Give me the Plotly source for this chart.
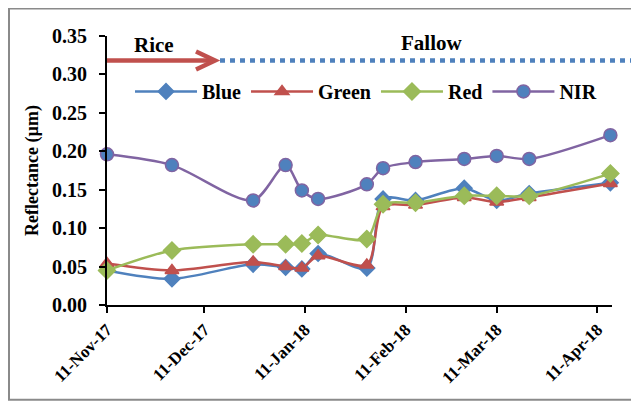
import plotly.graph_objects as go

dates = ["2017-11-11", "2017-12-01", "2017-12-26", "2018-01-05", "2018-01-10",
         "2018-01-15", "2018-01-30", "2018-02-04", "2018-02-14", "2018-03-01",
         "2018-03-11", "2018-03-21", "2018-04-15"]
blue = [0.045, 0.034, 0.053, 0.049, 0.047, 0.067, 0.048, 0.138, 0.136, 0.152, 0.136, 0.145, 0.159]
green = [0.054, 0.045, 0.056, 0.050, 0.048, 0.064, 0.052, 0.128, 0.130, 0.140, 0.134, 0.140, 0.158]
red = [0.045, 0.071, 0.079, 0.079, 0.080, 0.091, 0.086, 0.131, 0.133, 0.142, 0.142, 0.142, 0.171]
nir = [0.196, 0.182, 0.136, 0.182, 0.149, 0.138, 0.157, 0.178, 0.186, 0.190, 0.194, 0.190, 0.221]

tick_vals = ["2017-11-11", "2017-12-11", "2018-01-11", "2018-02-11", "2018-03-11", "2018-04-11"]
tick_text = ["11-Nov-17", "11-Dec-17", "11-Jan-18", "11-Feb-18", "11-Mar-18", "11-Apr-18"]
y_ticks = [0.00, 0.05, 0.10, 0.15, 0.20, 0.25, 0.30, 0.35]

FONT = "Liberation Serif, Times New Roman, serif"
C_BLUE = "#4F81BD"
C_RED = "#C0504D"
C_GREEN = "#9BBB59"
C_PURPLE = "#8064A2"

fig = go.Figure()
series = [
    ("Blue", blue, C_BLUE, "diamond", C_BLUE, C_BLUE, 12),
    ("Green", green, C_RED, "triangle-up", C_RED, C_RED, 12),
    ("Red", red, C_GREEN, "diamond", C_GREEN, C_GREEN, 13),
    ("NIR", nir, C_PURPLE, "circle", C_BLUE, C_PURPLE, 13),
]
for name, vals, lc, sym, mfill, mline, ms in series:
    fig.add_trace(go.Scatter(
        x=dates, y=vals, name=f"<b>{name}</b>", mode="lines+markers",
        line=dict(color=lc, width=2.5, shape="spline", smoothing=0.8),
        marker=dict(symbol=sym, size=ms, color=mfill, line=dict(color=mline, width=1.5)),
        cliponaxis=False,
    ))

# page body has an 8px margin; the figure is sized/positioned to compensate
OFF = 8
W, H = 639 - OFF, 402 - OFF
PL, PR, PT, PB = 107, 612, 35.5, 305  # plot area in reference-page pixels
L, R, T, B = PL - OFF, W - (PR - OFF), PT - OFF, H - (PB - OFF)
pw = PR - PL
ph = PB - PT


def px(x):
    return (x - PL) / pw


def py(y):
    return (PB - y) / ph


shapes = [
    # outer chart border
    dict(type="rect", xref="paper", yref="paper", x0=px(9), x1=px(650), y0=py(400), y1=py(8),
         line=dict(color="#8a8a8a", width=2), layer="below"),
    # Rice arrow shaft
    dict(type="line", xref="paper", yref="paper", x0=px(107), x1=px(212), y0=py(60), y1=py(60),
         line=dict(color=C_RED, width=4.5)),
    # Arrow head chevron
    dict(type="path", xref="paper", yref="paper",
         path=f"M {px(196)},{py(51)} L {px(215)},{py(60)} L {px(196)},{py(69)}",
         line=dict(color=C_RED, width=4.5)),
    # Fallow dotted line
    dict(type="line", xref="paper", yref="paper", x0=px(220), x1=px(631), y0=py(60), y1=py(60),
         line=dict(color=C_BLUE, width=4.5, dash="5px,5px")),
]

annotations = [
    dict(text="<b>Rice</b>", xref="paper", yref="paper", x=px(154), y=py(45),
         xanchor="center", yanchor="middle",
         showarrow=False, font=dict(family=FONT, size=21, color="black")),
    dict(text="<b>Fallow</b>", xref="paper", yref="paper", x=px(431), y=py(43),
         xanchor="center", yanchor="middle",
         showarrow=False, font=dict(family=FONT, size=21, color="black")),
]

fig.update_layout(
    width=W, height=H,
    margin=dict(l=L, r=R, t=T, b=B),
    paper_bgcolor="white", plot_bgcolor="white",
    font=dict(family=FONT, color="black"),
    shapes=shapes, annotations=annotations,
    showlegend=True,
    legend=dict(orientation="h", x=px(130), y=py(91), xanchor="left", yanchor="middle",
                font=dict(family=FONT, size=20, color="black"), bgcolor="rgba(0,0,0,0)",
                itemwidth=62, tracegroupgap=0),
    xaxis=dict(type="date", range=["2017-11-11", "2018-04-15 12:00"],
               tickvals=tick_vals, ticktext=[f"<b>{t}</b>" for t in tick_text],
               tickangle=-45, tickfont=dict(family=FONT, size=17, color="black"),
               showline=True, linecolor="black", linewidth=2, ticks="outside",
               ticklen=6, tickwidth=2, tickcolor="black", showgrid=False, zeroline=False),
    yaxis=dict(range=[0, 0.35], tickvals=y_ticks,
               ticktext=[f"<b>{v:.2f}</b>" for v in y_ticks],
               tickfont=dict(family=FONT, size=20, color="black"),
               showline=True, linecolor="black", linewidth=2, ticks="outside",
               ticklen=6, tickwidth=2, tickcolor="black", showgrid=False, zeroline=False,
               ticklabelstandoff=8,
               title=dict(text="<b>Reflectance (µm)</b>", font=dict(family=FONT, size=18, color="black"),
                          standoff=9)),
)

fig.write_html("out.html")
